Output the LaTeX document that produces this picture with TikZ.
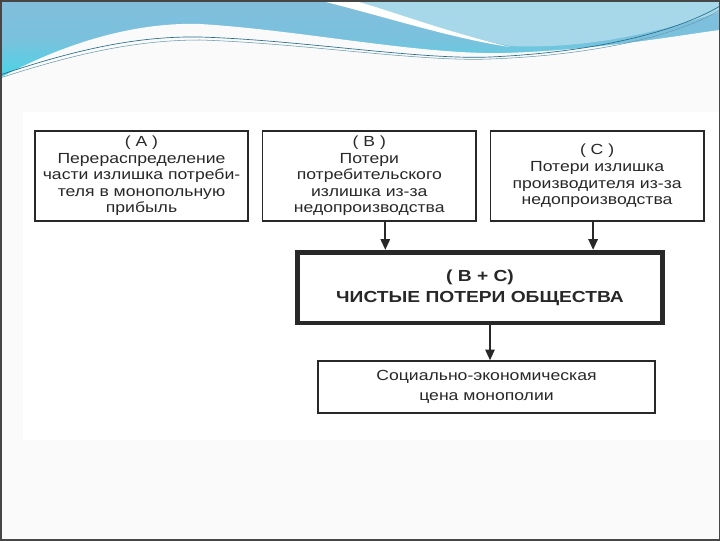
\documentclass[tikz,border=0pt]{standalone}
\usepackage{fontspec}
\setmainfont{Liberation Sans}[FakeStretch=1.2]
\usetikzlibrary{arrows.meta, positioning}
\definecolor{frame}{RGB}{70,70,70}
\definecolor{ink}{RGB}{40,40,40}
\definecolor{slidebg}{RGB}{250,250,250}
\definecolor{waveblue}{RGB}{130,190,220}
\definecolor{wavecyan}{RGB}{70,214,230}
\definecolor{wavelight}{RGB}{166,216,233}
\definecolor{waveline}{RGB}{40,110,140}

\begin{document}
\begin{tikzpicture}[
    x=0.75pt, y=-0.75pt,
    node distance=9.75pt,
    box/.style={draw=ink, line width=1.1pt, minimum width=160pt, minimum height=67.5pt, align=center, text=ink, font=\fontsize{11}{12.4}\selectfont, inner sep=1pt},
    sumbox/.style={box, line width=3.5pt, minimum width=274pt, minimum height=53pt, font=\bfseries\fontsize{12}{15.5}\selectfont},
    arr/.style={-{Triangle[length=8pt, width=7pt]}, draw=ink, line width=1.3pt}
  ]
  \useasboundingbox (0,0) rectangle (720,540);
  % slide and scanned picture
  \fill[slidebg] (0,0) rectangle (720,540);
  \fill[white] (23,112) rectangle (720,440);
  % header wave
  \shade[top color=waveblue, bottom color=wavecyan, middle color=waveblue!85!wavecyan] (0,0) rectangle (720,80);
  \fill[wavelight] (352,0) .. controls (400,14) and (450,34) .. (510,46) .. controls (600,50) and (680,25) .. (720,12) -- (720,0) -- cycle;
  \fill[white] (318,0) .. controls (390,18) and (450,38) .. (510,47) .. controls (440,30) and (395,12) .. (352,0) -- cycle;
  \fill[slidebg] (0,86) -- (0,78) .. controls (70,40) and (140,22) .. (200,24) .. controls (300,30) and (420,55) .. (505,53) .. controls (600,50) and (680,35) .. (720,30) -- (720,86) -- cycle;
  \draw[waveline, line width=0.5pt] (0,75) .. controls (80,48) and (140,36) .. (200,37) .. controls (300,40) and (420,60) .. (490,57) .. controls (600,52) and (680,30) .. (720,6);
  \draw[waveline!70, line width=0.4pt] (0,78) .. controls (80,52) and (140,40) .. (200,40) .. controls (300,43) and (420,62) .. (490,59) .. controls (600,55) and (680,34) .. (720,10);
  \draw[frame, line width=1.5pt] (0.5,0.5) rectangle (719.5,539.5);

  \node[box] (redist) at (141.5,176) {( A )\\Перераспределение\\части излишка потреби-\\теля в монопольную\\прибыль};
  \node[box, right=of redist] (conloss) {( B )\\Потери\\потребительского\\излишка из-за\\недопроизводства};
  \node[box, right=of conloss] (prodloss) {( C )\\Потери излишка\\производителя из-за\\недопроизводства};
  \node[sumbox] (net) at (480,287.5) {( B + C)\\ЧИСТЫЕ ПОТЕРИ ОБЩЕСТВА};
  \node[box, minimum width=252.75pt, minimum height=39pt, font=\fontsize{11}{15}\selectfont] (cost) at (486.5,387) {Социально-экономическая\\цена монополии};

  \draw[arr] ([xshift=12pt]conloss.south) -- ([xshift=12pt]conloss.south |- net.north);
  \draw[arr] ([xshift=-3pt]prodloss.south) -- ([xshift=-3pt]prodloss.south |- net.north);
  \draw[arr] ([xshift=7.5pt]net.south) -- ([xshift=7.5pt]net.south |- cost.north);
\end{tikzpicture}
\end{document}
